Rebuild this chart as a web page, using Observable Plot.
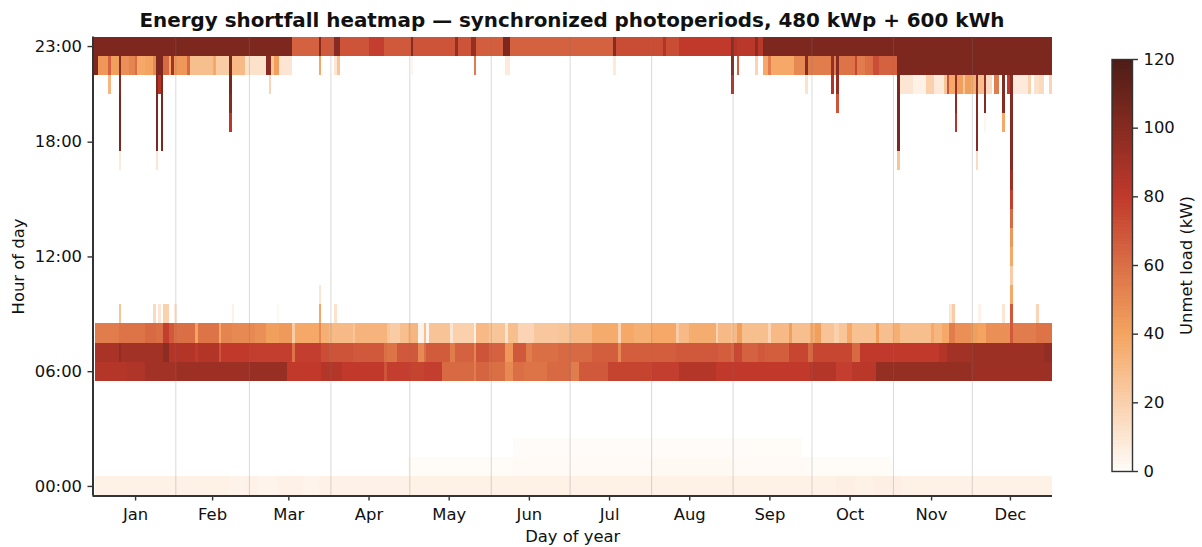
<!DOCTYPE html>
<html>
<head>
<meta charset="utf-8">
<script src="https://cdn.jsdelivr.net/npm/d3@7"></script>
<script src="https://cdn.jsdelivr.net/npm/@observablehq/plot@0.6"></script>
<style>
html,body{margin:0;padding:0;background:#fff;width:1202px;height:547px;overflow:hidden;font-family:"DejaVu Sans",sans-serif;color:#111}
#title{position:absolute;left:0;top:9px;width:1144px;text-align:center;font-size:19.9px;font-weight:bold;line-height:24px;white-space:nowrap}
#main{position:absolute;left:0;top:30px}
#bar{position:absolute;left:1090px;top:40px}
svg{overflow:visible;background:transparent}
</style>
</head>
<body>
<div id="title">Energy shortfall heatmap — synchronized photoperiods, 480 kWp + 600 kWh</div>
<div id="main"></div>
<div id="bar"></div>
<script>
// Runs per hour of day: [first day, day after last, unmet kW]
const hour00 = [[1,52,5],[52,58,4],[58,63,4.5],[63,70,3.5],[70,80,4.5],[80,86,3.5],[86,100,4.5],[100,120,4.8],[120,283,5],[283,290,5.8],[290,297,5.2],[297,308,5.8],[308,316,4.6],[316,365,4.6]];
const hour01 = [[120,124,0.5],[124,126,0.2],[126,130,0.5],[130,160,0.6],[160,212,1],[212,243,1.4],[243,273,0.8],[273,304,0.5]];
const hour02 = [[160,250,0.3],[250,270,0.15]];
const hour06 = [[1,13,84],[13,20,86],[20,32,90],[32,60,92],[60,74,94],[74,87,80],[87,95,84],[95,111,80],[111,112,70],[112,121,78],[121,126,76],[126,133,78],[133,145,62],[145,146,55],[146,151,64],[151,157,60],[157,160,50],[160,164,60],[164,173,58],[173,182,62],[182,185,55],[185,196,68],[196,213,76],[213,223,78],[223,237,84],[237,254,80],[254,273,80],[273,283,84],[283,289,78],[289,298,82],[298,334,95],[334,365,92]];
const hour07 = [[1,10,88],[10,11,96],[11,27,90],[27,29,98],[29,39,85],[39,40,80],[40,48,85],[48,49,70],[49,60,80],[60,76,78],[76,77,58],[77,87,78],[87,90,72],[90,99,70],[99,111,68],[111,112,60],[112,116,58],[116,124,68],[124,126,50],[126,127,60],[127,136,67],[136,138,55],[138,145,65],[145,146,52],[146,151,70],[151,157,65],[157,160,45],[160,165,68],[165,167,55],[167,177,60],[177,190,62],[190,200,66],[200,201,50],[201,222,66],[222,238,68],[238,243,66],[243,244,62],[244,247,74],[247,253,65],[253,256,68],[256,265,66],[265,272,75],[272,274,62],[274,289,75],[289,292,62],[292,322,80],[322,325,85],[325,334,90],[334,362,92],[362,365,96]];
const hour08 = [[1,10,55],[10,11,58],[11,20,58],[20,24,62],[24,27,60],[27,29,78],[29,31,68],[31,39,60],[39,40,40],[40,48,58],[48,49,38],[49,53,52],[53,62,50],[62,66,48],[66,71,42],[71,76,44],[76,77,22],[77,86,38],[86,87,50],[87,90,35],[90,99,30],[99,100,25],[100,112,33],[112,113,25],[113,117,22],[117,120,28],[120,124,32],[124,126,4],[126,127,28],[127,128,3],[128,136,26],[136,137,10],[137,145,20],[145,146,5],[146,151,30],[151,157,25],[157,158,10],[158,162,28],[162,168,18],[168,177,24],[177,182,25],[182,190,30],[190,200,37],[200,201,18],[201,206,38],[206,213,35],[213,222,38],[222,223,22],[223,227,30],[227,237,36],[237,238,18],[238,243,30],[243,244,25],[244,245,30],[245,247,42],[247,257,28],[257,258,18],[258,265,30],[265,266,42],[266,273,28],[273,275,36],[275,277,42],[277,282,26],[282,284,20],[284,287,25],[287,289,38],[289,298,27],[298,299,42],[299,305,28],[305,307,35],[307,319,28],[319,320,38],[320,323,32],[323,326,38],[326,328,55],[328,334,48],[334,337,42],[337,340,40],[340,349,48],[349,350,68],[350,359,55],[359,365,58]];
const hour09 = [[10,11,25],[23,24,15],[25,26,10],[27,29,20],[31,32,8],[53,54,5],[70,71,2],[86,87,38],[92,93,12],[326,327,10],[327,328,22],[337,338,4],[346,347,10],[349,350,68],[359,360,18]];
const hour10 = [[86,87,10],[349,350,38]];
const hour11 = [[349,350,22]];
const hour12 = [[349,350,38]];
const hour13 = [[349,350,45]];
const hour14 = [[349,350,62]];
const hour15 = [[349,350,78]];
const hour16 = [[349,350,92]];
const hour17 = [[10,11,8],[24,25,10],[306,307,25],[336,337,15],[349,350,100]];
const hour18 = [[10,11,103],[24,25,103],[26,27,103],[306,307,103],[336,337,100],[349,350,100]];
const hour19 = [[10,11,103],[24,25,103],[26,27,103],[52,53,82],[306,307,103],[328,329,85],[336,337,100],[339,340,3],[346,347,38],[349,350,100]];
const hour20 = [[10,11,103],[24,25,103],[26,27,103],[52,53,100],[283,284,70],[306,307,103],[328,329,98],[336,337,100],[339,340,100],[346,347,100],[349,350,100]];
const hour21 = [[6,7,32],[10,11,100],[24,25,103],[25,26,85],[26,27,103],[52,53,103],[67,68,18],[243,244,85],[271,272,12],[281,282,85],[283,284,95],[306,307,103],[307,312,10],[312,317,5],[317,320,20],[320,324,8],[324,325,25],[325,326,70],[326,328,38],[328,329,95],[329,331,42],[331,332,25],[332,334,42],[334,336,35],[336,337,100],[337,339,28],[339,340,95],[340,342,15],[343,345,55],[346,347,100],[348,349,80],[349,350,100],[350,356,8],[356,357,20],[358,360,12],[360,362,15],[364,365,18]];
const hour22 = [[0,2,103],[2,6,45],[6,7,65],[7,10,42],[10,11,100],[11,14,48],[14,16,52],[16,17,60],[17,20,38],[20,23,40],[23,24,50],[24,27,103],[27,29,62],[29,30,38],[30,31,90],[31,36,45],[36,37,62],[37,46,28],[46,47,38],[47,52,22],[52,53,103],[53,58,30],[58,66,12],[66,68,100],[68,69,25],[69,71,42],[71,76,10],[86,87,38],[92,93,10],[93,94,25],[121,122,3],[145,146,55],[157,159,8],[198,199,8],[243,244,100],[245,246,65],[252,253,18],[255,257,38],[257,258,55],[258,267,38],[267,271,50],[271,272,100],[272,281,55],[281,282,95],[282,283,55],[283,284,100],[284,290,58],[290,291,75],[291,294,55],[294,297,60],[297,299,72],[299,306,65],[306,365,103]];
const hour23 = [[0,76,103],[76,86,65],[86,87,100],[87,92,68],[92,94,100],[94,105,70],[105,111,78],[111,121,68],[121,122,100],[122,138,70],[138,139,95],[139,144,70],[144,146,95],[146,156,66],[156,159,103],[159,198,65],[198,199,100],[199,217,73],[217,218,85],[218,223,73],[223,238,80],[238,243,80],[243,244,100],[244,245,85],[245,252,82],[252,253,98],[253,255,82],[255,365,103]];

const hourRuns = {0:hour00,1:hour01,2:hour02,6:hour06,7:hour07,8:hour08,9:hour09,10:hour10,11:hour11,12:hour12,13:hour13,14:hour14,15:hour15,16:hour16,17:hour17,18:hour18,19:hour19,20:hour20,21:hour21,22:hour22,23:hour23};
const cells = Object.entries(hourRuns).flatMap(([h,runs]) => runs.map(([a,b,v]) => ({h:+h,a,b,v})));

const monthNames = ["Jan","Feb","Mar","Apr","May","Jun","Jul","Aug","Sep","Oct","Nov","Dec"];
const monthMid = [15.7,45,74,104.5,135,165.5,196,226.5,257,287.5,318.5,348.5];
const monthStart = [31,59,90,120,151,181,212,243,273,304,334];
const hourTicks = [0,6,12,18,23];
const hourLabels = ["00:00","06:00","12:00","18:00","23:00"];
const colorStops = [0,40,80,120];
const colorValues = ["#fffcf9","#f4a460","#c0392b","#4c1c16"];
const barTicks = [0,20,40,60,80,100,120];
const barSteps = d3.range(0,120,1);
const colorOpt = {type:"linear",domain:colorStops,range:colorValues,interpolate:"rgb",clamp:true};
const ink = "#333";
const fs = 16.4;

const main = Plot.plot({
  width:1202,height:517,marginLeft:92.5,marginRight:150,marginTop:6.5,marginBottom:51.5,
  style:{fontFamily:"DejaVu Sans",fontSize:fs+"px",color:"#111",background:"transparent"},
  x:{domain:[-0.5,364.5],label:null},
  y:{domain:[-0.5,23.5],label:null},
  color:colorOpt,
  marks:[
    Plot.rect(cells,{x1:d=>d.a-0.5,x2:d=>d.b-0.5,y1:d=>d.h-0.5,y2:d=>d.h+0.5,fill:"v",shapeRendering:"crispEdges"}),
    Plot.ruleX(monthStart,{stroke:"#777",strokeOpacity:0.28,strokeWidth:1}),
    Plot.axisX({ticks:monthMid,tickFormat:(d,i)=>monthNames[i],tickSize:5,tickPadding:7,stroke:ink,strokeWidth:1.4,fontSize:fs,fill:"#111",label:"Day of year",labelAnchor:"center",labelArrow:"none",labelOffset:46}),
    Plot.axisY({ticks:hourTicks,tickFormat:(d,i)=>hourLabels[i],tickSize:5,tickPadding:6,stroke:ink,strokeWidth:1.4,fontSize:fs,fill:"#111",label:"Hour of day",labelAnchor:"center",labelArrow:"none",labelOffset:81}),
    Plot.ruleX([-0.5],{stroke:ink,strokeWidth:2}),
    Plot.ruleY([-0.5],{stroke:ink,strokeWidth:2})
  ]
});
document.getElementById("main").appendChild(main);

const bar = Plot.plot({
  width:112,height:450,marginLeft:21.5,marginRight:70,marginTop:19,marginBottom:19,
  style:{fontFamily:"DejaVu Sans",fontSize:fs+"px",color:"#111",background:"transparent"},
  x:{axis:null,domain:[0,1]},
  y:{domain:[0,120],label:null},
  color:colorOpt,
  marks:[
    Plot.rect(barSteps,{x1:0,x2:1,y1:d=>d,y2:d=>d+1,fill:d=>d+0.5,shapeRendering:"crispEdges"}),
    Plot.frame({stroke:ink,strokeWidth:1.4}),
    Plot.axisY({anchor:"right",ticks:barTicks,tickSize:5,tickPadding:6,stroke:ink,strokeWidth:1.4,fontSize:fs,fill:"#111",label:"Unmet load (kW)",labelAnchor:"center",labelArrow:"none",labelOffset:59})
  ]
});
document.getElementById("bar").appendChild(bar);
</script>
</body>
</html>
